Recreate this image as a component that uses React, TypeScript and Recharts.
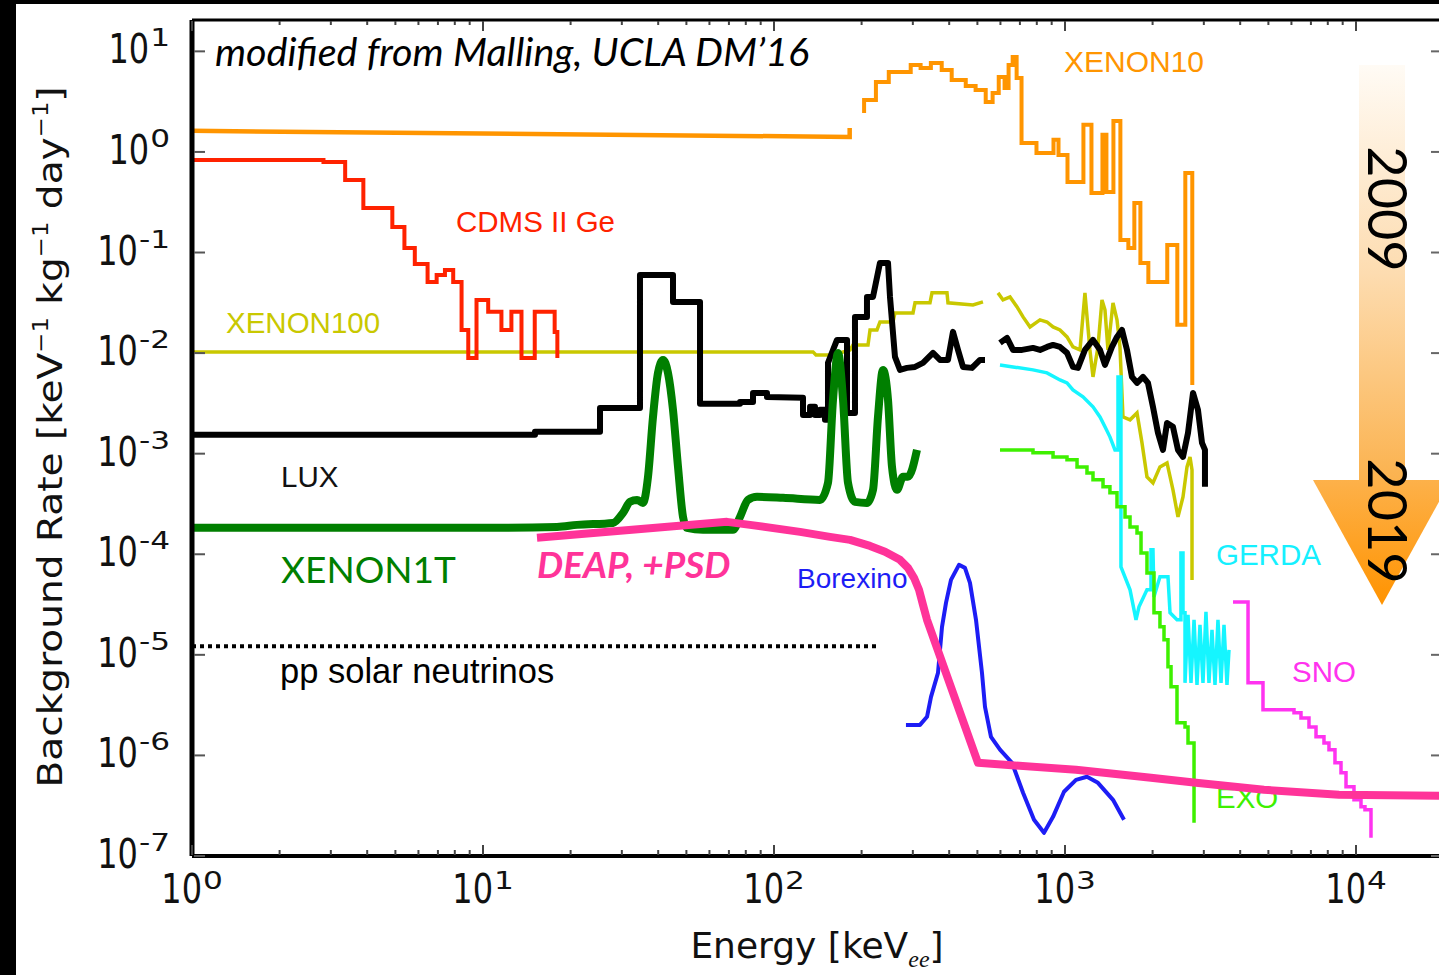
import { LineChart, Line, XAxis, YAxis } from "recharts";

type Pair = [number, number | null];

// energy in keV_ee, background rate in keV^-1 kg^-1 day^-1

const xenon10Low: Pair[] = [[1, 1.62], [182, 1.41], [182, 1.73]];

const xenon10: Pair[] = [
  [204, 2.44], [204, 3.29], [224, 4.96], [248, 6.24], [295, 7.32], [319, 6.84],
  [346, 7.67], [377, 6.53], [408, 5.2], [456, 4.53], [493, 4.13], [534, 3.14],
  [564, 3.86], [592, 5.57], [620, 4.33], [640, 7.32], [661, 8.8], [682, 5.44],
  [709, 1.23], [798, 0.977], [913, 1.32], [950, 0.934], [1020, 0.503], [1157, 1.86],
  [1233, 0.391], [1345, 1.48], [1388, 0.4], [1467, 2.03], [1550, 0.133], [1651, 0.111],
  [1731, 0.311], [1816, 0.0788], [1934, 0.051], [2246, 0.119], [2432, 0.0191],
  [2591, 0.618], [2738, 0.00483],
];

const cdms: Pair[] = [
  [1.016, 0.833], [2.83, 0.796], [3.36, 0.527], [3.88, 0.2775], [4.88, 0.1797],
  [5.37, 0.111], [5.83, 0.077], [6.45, 0.051], [6.93, 0.0599], [7.4, 0.0671],
  [7.9, 0.051], [8.44, 0.017], [8.9, 0.00896], [9.5, 0.0338], [10.42, 0.0257],
  [11.57, 0.017], [12.52, 0.0257], [13.56, 0.00896], [15.06, 0.0257],
  [17.63, 0.01625], [18.01, 0.00896],
];

const xenon100: Pair[] = [
  [1, 0.01028], [136.2, 0.01028], [139.4, 0.0096], [159.5, 0.0096], [182.5, 0.01076],
  [186.8, 0.01207], [210.4, 0.01207], [213.8, 0.017], [225.9, 0.017], [231.3, 0.0204],
  [256.4, 0.0204], [260.5, 0.0251], [300.4, 0.0251], [305.2, 0.0316], [343.6, 0.0316],
  [349.1, 0.0397], [393.1, 0.0397], [396.2, 0.0316], [482.9, 0.0301], [522.5, 0.0323],
  [560, null],
  [588.6, 0.0397], [612.3, 0.0338], [647.3, 0.0362], [684.3, 0.0288], [717.5, 0.0229],
  [758.3, 0.0182], [820.6, 0.0214], [867.3, 0.0204], [909.7, 0.0182], [961.1, 0.017],
  [1016, 0.01449], [1065, 0.01152], [1126, 0.01076], [1171, 0.0397], [1218, 0.01076],
  [1248, 0.0058], [1298, 0.01152], [1340, 0.0338], [1372, 0.0269], [1405, 0.01076],
  [1462, 0.0316], [1509, 0.0214], [1545, 0.01152], [1582, 0.00232], [1673, 0.00217],
  [1768, 0.00254], [1839, 0.00128], [1913, 0.000588], [2006, 0.000513], [2120, 0.000739],
  [2242, 0.00081], [2350, 0.000437], [2445, 0.000235], [2544, 0.000372], [2626, 0.000739],
  [2689, 0.000929], [2732, 0.00069], [2732, 5.56e-5],
];

const lux: Pair[] = [
  [1, 0.00154], [15.09, 0.00154], [15.09, 0.00165], [25.24, 0.00165], [25.24, 0.00285],
  [34.63, 0.00285], [34.63, 0.0599], [44.97, 0.0599], [44.97, 0.0323], [55.69, 0.0323],
  [55.69, 0.00313], [76.41, 0.00313], [76.41, 0.00327], [84.7, 0.00327], [84.7, 0.00402],
  [94.6, 0.00402], [94.6, 0.00367], [125.8, 0.00359], [125.8, 0.00243], [133, 0.00243],
  [133, 0.00292], [138.3, 0.00292], [138.3, 0.00243], [143.9, 0.00243], [143.9, 0.00273],
  [149.7, 0.00273], [149.7, 0.00217], [153.3, 0.00217], [153.3, 0.00799], [164.6, 0.01353],
  [178.2, 0.01353], [178.2, 0.00254], [189.8, 0.00254], [189.8, 0.0229], [208.7, 0.0229],
  [208.7, 0.0362], [218.9, 0.0362], [231.3, 0.0788], [246.5, 0.0788], [250.4, 0.0362],
  [260.5, 0.00917], [271, 0.00681], [286.4, 0.00713], [305.2, 0.00729], [325.1, 0.00799],
  [351.9, 0.01005], [371.9, 0.00856], [396.2, 0.00856], [412.2, 0.01625], [428.8, 0.01076],
  [446.1, 0.00729], [479, 0.00713], [510.4, 0.00856], [531, 0.00856],
  [560, null],
  [597.9, 0.01263], [632.1, 0.01416], [662.9, 0.01076], [711.8, 0.01076], [776.3, 0.01126],
  [820.6, 0.01076], [867.3, 0.01152], [909.7, 0.01207], [961.1, 0.01152], [1016, 0.01005],
  [1065, 0.00729], [1108, 0.00713], [1171, 0.01076], [1248, 0.01353], [1319, 0.01076],
  [1372, 0.00763], [1450, 0.01152], [1509, 0.01449], [1570, 0.017], [1633, 0.01076],
  [1699, 0.0058], [1768, 0.00505], [1854, 0.0058], [1928, 0.00505], [2006, 0.00292],
  [2087, 0.00161], [2171, 0.00109], [2242, 0.00202], [2350, 0.00185], [2445, 0.00109],
  [2544, 0.000929], [2647, 0.00161], [2754, 0.00402], [2864, 0.00273], [2957, 0.00128],
  [3027, 0.00109], [3027, 0.000468],
];

const xenon1t: Pair[] = [
  [1, 0.000183], [10.57, 0.000183], [17.96, 0.000187], [21.04, 0.000196], [27.97, 0.000205],
  [30.28, 0.000258], [32.01, 0.000332], [33.83, 0.000347], [35.46, 0.000324], [36.9, 0.000588],
  [38.39, 0.00232], [39.94, 0.00636], [41.55, 0.00856], [43.22, 0.00636], [44.97, 0.00273],
  [46.79, 0.000739], [48.68, 0.000235], [50.23, 0.000183], [57.02, 0.000175], [72.3, 0.000175],
  [76.41, 0.000235], [81.42, 0.000347], [87.43, 0.000372], [107.4, 0.000364], [143.9, 0.000347],
  [153.3, 0.000513], [159.5, 0.00343], [166, 0.01005], [172.7, 0.00343], [179.6, 0.000513],
  [189.8, 0.000332], [208.7, 0.000324], [218.9, 0.000437], [227.7, 0.00232], [236.9, 0.00681],
  [246.5, 0.00343], [254.4, 0.000739], [264.7, 0.000437], [277.5, 0.000588], [288.7, 0.000588],
  [310, 0.00109],
];

const deap: Pair[] = [
  [15.33, 0.000146], [68.95, 0.00021], [82.71, 0.000196], [122.9, 0.000167], [155.8, 0.000149],
  [182.5, 0.000139], [213.8, 0.000121], [240.7, 0.000106], [271, 8.8e-5], [288.7, 7.32e-5],
  [302.8, 5.83e-5], [315, 4.43e-5], [325.1, 3.14e-5], [335.6, 2.23e-5], [502.3, 8.44e-7],
  [1091, 7.19e-7], [1975, 5.99e-7], [2820, 5.34e-7], [4829, 4.55e-7], [8741, 4.06e-7],
  [19290, 3.97e-7],
];

const borexino: Pair[] = [
  [284.1, 2.01e-6], [317.5, 2.01e-6], [335.6, 2.42e-6], [346.4, 3.82e-6], [366.1, 6.62e-6],
  [377.9, 1.9e-5], [390, 3.29e-5], [405.7, 5.56e-5], [432.2, 7.85e-5], [453.2, 7.32e-5],
  [471.5, 5.19e-5], [494.5, 2.23e-5], [518.5, 6.62e-6], [531, 3.04e-6], [556.8, 1.53e-6],
  [597.9, 1.14e-6], [657.6, 8.44e-7], [717.5, 4.25e-7], [782.6, 2.29e-7], [847, 1.7e-7],
  [909.7, 2.45e-7], [992.2, 4.35e-7], [1091, 5.72e-7], [1190, 6.13e-7], [1298, 5.34e-7],
  [1462, 3.62e-7], [1595, 2.29e-7],
];

const gerda: Pair[] = [
  [597.9, 0.00763], [662.9, 0.00729], [776.3, 0.00681], [867.3, 0.00636], [961.1, 0.00541],
  [1016, 0.00505], [1065, 0.00431], [1153, 0.00367], [1248, 0.00292], [1319, 0.00232],
  [1372, 0.00185], [1427, 0.00147], [1485, 0.00109], [1521, 0.00109], [1521, 0.0058],
  [1557, 0.0058], [1557, 7.49e-5], [1673, 4.43e-5], [1754, 2.23e-5], [1796, 3.0e-5],
  [1913, 4.43e-5], [1975, 4.43e-5], [1975, 0.000111], [2006, 0.000111], [2022, 3.77e-5],
  [2120, 5.96e-5], [2259, 5.96e-5], [2296, 2.62e-5], [2426, 2.23e-5], [2503, 2.23e-5],
  [2503, 0.000103], [2544, 0.000103], [2544, 2.62e-5], [2585, 2.62e-5], [2585, 5.27e-6],
  [2647, 2.5e-5], [2710, 5.27e-6], [2776, 2.23e-5], [2842, 5.03e-6], [2910, 1.99e-5],
  [2980, 5.27e-6], [3051, 2.68e-5], [3124, 5.27e-6], [3200, 1.77e-5], [3277, 5.03e-6],
  [3355, 2.23e-5], [3437, 5.27e-6], [3519, 1.99e-5], [3603, 5.03e-6], [3661, 1.12e-5],
];

const exo: Pair[] = [
  [597.9, 0.00109], [776.3, 0.00102], [909.7, 0.000929], [1016, 0.000868], [1100, 0.000739],
  [1190, 0.000644], [1248, 0.000549], [1351, 0.000468], [1427, 0.000408], [1509, 0.000296],
  [1608, 0.000235], [1673, 0.000187], [1768, 0.000163], [1825, 0.000103], [1913, 6.53e-5],
  [2022, 2.62e-5], [2120, 1.9e-5], [2189, 1.41e-5], [2259, 7.6e-6], [2314, 4.81e-6],
  [2426, 2.11e-6], [2585, 1.92e-6], [2647, 1.33e-6], [2776, 1.22e-6], [2776, 2.14e-7],
];

const sno: Pair[] = [
  [3779, 3.36e-5], [4256, 5.27e-6], [4791, 2.84e-6], [6123, 2.65e-6], [6471, 2.36e-6],
  [6894, 1.92e-6], [7288, 1.53e-6], [7762, 1.33e-6], [8075, 1.14e-6], [8468, 8.44e-7],
  [8881, 6.71e-7], [9241, 4.87e-7], [9842, 3.62e-7], [10404, 3.08e-7], [10737, 2.88e-7],
  [11260, 1.52e-7],
];

const ppSolar: Pair[] = [[1, 1.215e-5], [227.7, 1.215e-5]];

const E_MIN = 1;
const E_MAX = 19750;
const R_MIN = 1e-7;
const R_MAX = 20.5;

const decades = [1, 10, 100, 1000, 10000];
const xTicks = decades
  .flatMap((d) => [1, 2, 3, 4, 5, 6, 7, 8, 9].map((m) => m * d))
  .filter((v) => v < E_MAX);
const yTicks = [1e-7, 1e-6, 1e-5, 1e-4, 1e-3, 1e-2, 1e-1, 1, 10];

const pts = (rows: Pair[]) => rows.map(([e, r]) => ({ e, r }));
const isMajor = (v: number) => decades.includes(v);
const expOf = (v: number) => String(Math.round(Math.log10(v)));

const NUM_FONT = "'DejaVu Sans', Verdana, sans-serif";
const LABEL_FONT = "'Liberation Sans', Arial, sans-serif";

// width of the raised exponent, DejaVu advance widths
const expWidth = (s: string) =>
  [...s].reduce((w, c) => w + (c === "-" ? 0.361 : 0.636), 0) * 24 * 1.3;

function PowerLabel({ bx, by, ey, exp }: { bx: number; by: number; ey: number; exp: string }) {
  return (
    <g>
      <text
        transform={`translate(${bx},${by}) scale(1,1.28)`}
        textAnchor="end"
        fontFamily={NUM_FONT}
        fontSize={32}
        fill="#111"
      >
        10
      </text>
      <text
        transform={`translate(${bx + 1},${ey}) scale(1.3,1)`}
        fontFamily={NUM_FONT}
        fontSize={24}
        fill="#111"
      >
        {exp}
      </text>
    </g>
  );
}

function BottomTick(props: any) {
  const { x, y, payload } = props;
  const major = isMajor(payload.value);
  return (
    <g>
      <line x1={x} x2={x} y1={y - 1} y2={y - (major ? 11 : 6)} stroke="#444" strokeWidth={2} />
      {major && <PowerLabel bx={x + 10} by={y + 47} ey={y + 33} exp={expOf(payload.value)} />}
    </g>
  );
}

function TopTick(props: any) {
  const { x, y, payload } = props;
  const major = isMajor(payload.value);
  return <line x1={x} x2={x} y1={y + 1} y2={y + (major ? 11 : 5)} stroke="#444" strokeWidth={2} />;
}

function LeftTick(props: any) {
  const { x, y, payload } = props;
  const exp = expOf(payload.value);
  return (
    <g>
      <line x1={x + 2} x2={x + 13} y1={y} y2={y} stroke="#555" strokeWidth={2} />
      <PowerLabel bx={x - 23 - expWidth(exp)} by={y + 12} ey={y - 5} exp={exp} />
    </g>
  );
}

function RightTick(props: any) {
  const { x, y } = props;
  return <line x1={x - 1} x2={x - 11} y1={y} y2={y} stroke="#666" strokeWidth={2} />;
}

function Annotations() {
  return (
    <svg width={1439} height={975} style={{ position: "absolute", left: 0, top: 0 }}>
      <defs>
        <linearGradient id="shaft" x1="0" y1="0" x2="0" y2="1">
          <stop offset="0" stopColor="#fffbf5" />
          <stop offset="0.5" stopColor="#fddcb0" />
          <stop offset="1" stopColor="#fbb24e" />
        </linearGradient>
        <linearGradient id="head" x1="0" y1="0" x2="0" y2="1">
          <stop offset="0" stopColor="#fdb14a" />
          <stop offset="1" stopColor="#ff9300" />
        </linearGradient>
      </defs>
      <rect x={1359} y={65} width={46} height={416} fill="url(#shaft)" />
      <polygon points="1313,480 1451,480 1382,605" fill="url(#head)" />
      <text transform="translate(1387,209) rotate(90)" y={19} textAnchor="middle" fontFamily="Lato" fontSize={54} fill="#000">
        2009
      </text>
      <text transform="translate(1387,521) rotate(90)" y={19} textAnchor="middle" fontFamily="Lato" fontSize={54} fill="#000">
        2019
      </text>

      <text x={215} y={66} fontFamily="Lato" fontStyle="italic" fontSize={39.5} fill="#000">
        modified from Malling, UCLA DM’16
      </text>
      <text x={1064} y={72} fontFamily={LABEL_FONT} fontSize={30} fill="#ff9500">XENON10</text>
      <text x={456} y={232} fontFamily={LABEL_FONT} fontSize={29.5} fill="#ff2200">CDMS II Ge</text>
      <text x={226} y={333} fontFamily={LABEL_FONT} fontSize={29.5} fill="#c9c800">XENON100</text>
      <text x={281} y={487} fontFamily={LABEL_FONT} fontSize={29.5} fill="#111">LUX</text>
      <text x={281} y={583} fontFamily="Lato" fontSize={37} fill="#007f00">XENON1T</text>
      <text x={537} y={578} fontFamily="Lato" fontStyle="italic" fontWeight={700} fontSize={37} fill="#ff3399">
        DEAP, +PSD
      </text>
      <text x={797} y={588} fontFamily={LABEL_FONT} fontSize={28} fill="#1d1df5">Borexino</text>
      <text x={280} y={683} fontFamily={LABEL_FONT} fontSize={34.5} fill="#000">pp solar neutrinos</text>
      <text x={1216} y={565} fontFamily={LABEL_FONT} fontSize={29.5} fill="#15f0ff">GERDA</text>
      <text x={1292} y={682} fontFamily={LABEL_FONT} fontSize={29.5} fill="#ff33ee">SNO</text>
      <text x={1216} y={808} fontFamily={LABEL_FONT} fontSize={29.5} fill="#3ef000">EXO</text>

      <g transform="translate(62,437) rotate(-90) scale(1.15,1)">
        <text textAnchor="middle" fontFamily={NUM_FONT} fontSize={34} fill="#111">
          Background Rate [keV
          <tspan dy={-14} fontSize={21}>−1</tspan>
          <tspan dy={14}> kg</tspan>
          <tspan dy={-14} fontSize={21}>−1</tspan>
          <tspan dy={14}> day</tspan>
          <tspan dy={-14} fontSize={21}>−1</tspan>
          <tspan dy={14}>]</tspan>
        </text>
      </g>
      <text x={817} y={958} textAnchor="middle" fontFamily={NUM_FONT} fontSize={36} fill="#111">
        Energy [keV
        <tspan dy={9} fontSize={24} fontStyle="italic" fontFamily="'Liberation Serif', serif">ee</tspan>
        <tspan dy={-9}>]</tspan>
      </text>
    </svg>
  );
}

export default function App() {
  return (
    <div
      style={{
        position: "fixed",
        left: 0,
        top: 0,
        width: 1439,
        height: 975,
        background: "#000",
        overflow: "hidden",
      }}
    >
      <div style={{ position: "absolute", left: 16, top: 4, right: 0, bottom: 0, background: "#fff" }} />
      <Annotations />
      <div style={{ position: "absolute", left: 0, top: 0 }}>
        <LineChart width={1445} height={975} margin={{ top: 0, right: 0, bottom: 0, left: 0 }}>
          <XAxis
            type="number"
            dataKey="e"
            scale="log"
            domain={[E_MIN, E_MAX]}
            allowDataOverflow
            ticks={xTicks}
            interval={0}
            tick={(p: any) => <BottomTick {...p} />}
            tickLine={false}
            tickSize={0}
            tickMargin={0}
            height={119}
            axisLine={{ stroke: "#000", strokeWidth: 4 }}
          />
          <XAxis
            xAxisId="top"
            orientation="top"
            type="number"
            dataKey="e"
            scale="log"
            domain={[E_MIN, E_MAX]}
            allowDataOverflow
            ticks={xTicks}
            interval={0}
            tick={(p: any) => <TopTick {...p} />}
            tickLine={false}
            tickSize={0}
            tickMargin={0}
            height={20}
            axisLine={{ stroke: "#000", strokeWidth: 3 }}
          />
          <YAxis
            type="number"
            scale="log"
            domain={[R_MIN, R_MAX]}
            allowDataOverflow
            ticks={yTicks}
            interval={0}
            tick={(p: any) => <LeftTick {...p} />}
            tickLine={false}
            tickSize={0}
            tickMargin={0}
            width={192}
            axisLine={{ stroke: "#000", strokeWidth: 5 }}
          />
          <YAxis
            yAxisId="right"
            orientation="right"
            type="number"
            scale="log"
            domain={[R_MIN, R_MAX]}
            allowDataOverflow
            ticks={yTicks}
            interval={0}
            tick={(p: any) => <RightTick {...p} />}
            tickLine={false}
            tickSize={0}
            tickMargin={0}
            width={3}
            axisLine={false}
          />

          <Line data={pts(xenon100)} dataKey="r" type="linear" stroke="#c9c800" strokeWidth={3.5} dot={false} activeDot={false} isAnimationActive={false} />
          <Line data={pts(cdms)} dataKey="r" type="stepAfter" stroke="#ff2200" strokeWidth={4} dot={false} activeDot={false} isAnimationActive={false} />
          <Line data={pts(xenon10Low)} dataKey="r" type="linear" stroke="#ff9500" strokeWidth={4.5} dot={false} activeDot={false} isAnimationActive={false} />
          <Line data={pts(xenon10)} dataKey="r" type="stepAfter" stroke="#ff9500" strokeWidth={4} dot={false} activeDot={false} isAnimationActive={false} />
          <Line data={pts(lux)} dataKey="r" type="linear" stroke="#000" strokeWidth={6} strokeLinejoin="round" dot={false} activeDot={false} isAnimationActive={false} />
          <Line data={pts(gerda)} dataKey="r" type="linear" stroke="#15f5ff" strokeWidth={3.5} dot={false} activeDot={false} isAnimationActive={false} />
          <Line data={pts(exo)} dataKey="r" type="stepAfter" stroke="#3ef000" strokeWidth={3.5} dot={false} activeDot={false} isAnimationActive={false} />
          <Line data={pts(sno)} dataKey="r" type="stepAfter" stroke="#ff33f0" strokeWidth={3.5} dot={false} activeDot={false} isAnimationActive={false} />
          <Line data={pts(borexino)} dataKey="r" type="linear" stroke="#1d1df5" strokeWidth={4} strokeLinejoin="round" dot={false} activeDot={false} isAnimationActive={false} />
          <Line data={pts(xenon1t)} dataKey="r" type="monotone" stroke="#007f00" strokeWidth={8} strokeLinejoin="round" dot={false} activeDot={false} isAnimationActive={false} />
          <Line data={pts(ppSolar)} xAxisId="top" yAxisId="right" dataKey="r" type="linear" stroke="#000" strokeWidth={4} strokeDasharray="4 4" dot={false} activeDot={false} isAnimationActive={false} />
          <Line data={pts(deap)} dataKey="r" type="linear" stroke="#ff3399" strokeWidth={8} strokeLinejoin="round" dot={false} activeDot={false} isAnimationActive={false} />
        </LineChart>
      </div>
    </div>
  );
}
